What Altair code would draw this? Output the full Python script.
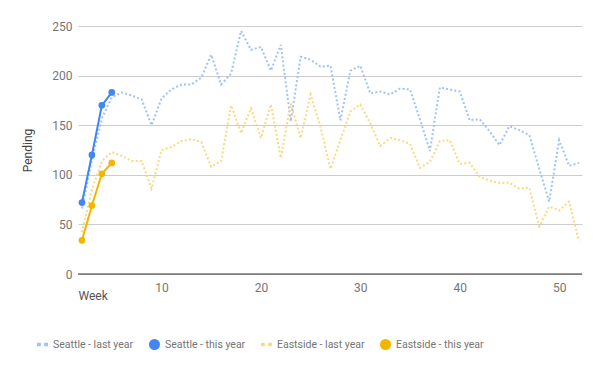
import altair as alt
import pandas as pd

# ---- data ----
weeks_last = list(range(2, 53))
seattle_last = [66, 115, 157, 178, 183, 180, 176, 150, 177, 186,
                191, 191, 198, 221, 191, 202, 245, 226, 229, 205,
                231, 154, 219, 216, 209, 210, 155, 205, 210, 182,
                184, 181, 187, 186, 156, 124, 188, 186, 184, 155,
                156, 144, 130, 149, 145, 140, 106, 73, 135, 109,
                112]
eastside_last = [42, 85, 114, 123, 119, 114, 114, 86, 125, 128,
                 134, 136, 133, 108, 114, 170, 142, 167, 137, 171,
                 117, 172, 137, 181, 148, 106, 135, 164, 171, 152,
                 129, 137, 135, 131, 107, 113, 134, 135, 111, 112,
                 98, 94, 92, 92, 86, 87, 48, 68, 64, 73,
                 33]
weeks_this = [2, 3, 4, 5]
seattle_this = [72, 120, 170, 183]
eastside_this = [34, 69, 101, 112]

series_names = ["Seattle - last year", "Seattle - this year",
                "Eastside - last year", "Eastside - this year"]
series_colors = ["#A0C2F9", "#4285F4", "#FAD980", "#F4B400"]
y_ticks = [0, 50, 100, 150, 200, 250]
x_ticks = [10, 20, 30, 40, 50]

rows = []
for name, weeks, vals in [
    (series_names[0], weeks_last, seattle_last),
    (series_names[1], weeks_this, seattle_this),
    (series_names[2], weeks_last, eastside_last),
    (series_names[3], weeks_this, eastside_this),
]:
    for w, v in zip(weeks, vals):
        rows.append({"week": w, "pending": v, "series": name})
df = pd.DataFrame(rows)

dash_path = "M-1,-0.3H-0.3V0.3H-1Z M0.3,-0.3H1V0.3H0.3Z"
shape_range = [dash_path, "circle", dash_path, "circle"]

x_enc = alt.X(
    "week:Q",
    scale=alt.Scale(domain=[1.6, 52.3], nice=False, zero=False),
    axis=alt.Axis(values=x_ticks, grid=False, domain=False, ticks=False,
                  labelPadding=8, title="Week", titleX=0, titleY=21,
                  titleAlign="left", titleBaseline="middle",
                  titleColor="#555555", titleFontSize=12),
)
y_enc = alt.Y(
    "pending:Q",
    scale=alt.Scale(domain=[0, 250], nice=False),
    axis=alt.Axis(values=y_ticks, grid=True, gridColor="#cccccc",
                  domain=False, ticks=False, labelPadding=6,
                  title="Pending", titleX=-51, titleY=124, titleAngle=270,
                  titleAlign="center", titleBaseline="middle"),
)
color_scale = alt.Scale(domain=series_names, range=series_colors)

leg = alt.Legend(title=None, orient="none", legendX=-41, legendY=313,
                 direction="horizontal", symbolSize=121, labelOffset=5,
                 columnPadding=15, labelFontSize=10.5, labelColor="#757575",
                 labelFont="Roboto", padding=0, symbolStrokeWidth=0,
                 symbolOpacity=1)

base = alt.Chart(df)

baseline = alt.Chart(pd.DataFrame({"pending": [0]})).mark_rule(
    color="#333333", strokeWidth=1
).encode(y=y_enc)

last = base.transform_filter(
    "indexof(datum.series, 'last') >= 0"
).mark_line(strokeDash=[2, 2.2], strokeWidth=2).encode(
    x=x_enc, y=y_enc,
    color=alt.Color("series:N", scale=color_scale, legend=None),
)

this_line = base.transform_filter(
    "indexof(datum.series, 'this') >= 0"
).mark_line(strokeWidth=2).encode(
    x=x_enc, y=y_enc,
    color=alt.Color("series:N", scale=color_scale, legend=None),
)

this_pts = base.transform_filter(
    "indexof(datum.series, 'this') >= 0"
).mark_point(filled=True, size=45, opacity=1).encode(
    x=x_enc, y=y_enc,
    color=alt.Color("series:N", scale=color_scale, legend=leg),
    shape=alt.Shape("series:N",
                    scale=alt.Scale(domain=series_names, range=shape_range),
                    legend=leg),
)

chart = alt.layer(baseline, last, this_line, this_pts).resolve_legend(
    color="independent", shape="independent"
).properties(
    width=504, height=248,
    padding={"left": 70, "top": 18, "right": 10, "bottom": 88},
    autosize="none",
    background="white",
).configure_view(stroke=None).configure_axis(
    labelFont="Roboto", labelFontSize=12, labelColor="#757575",
    titleFont="Roboto", titleFontSize=12, titleColor="#444444",
    titleFontWeight="normal",
)

chart.save("out.html", embed_options={"renderer": "svg", "actions": False})
